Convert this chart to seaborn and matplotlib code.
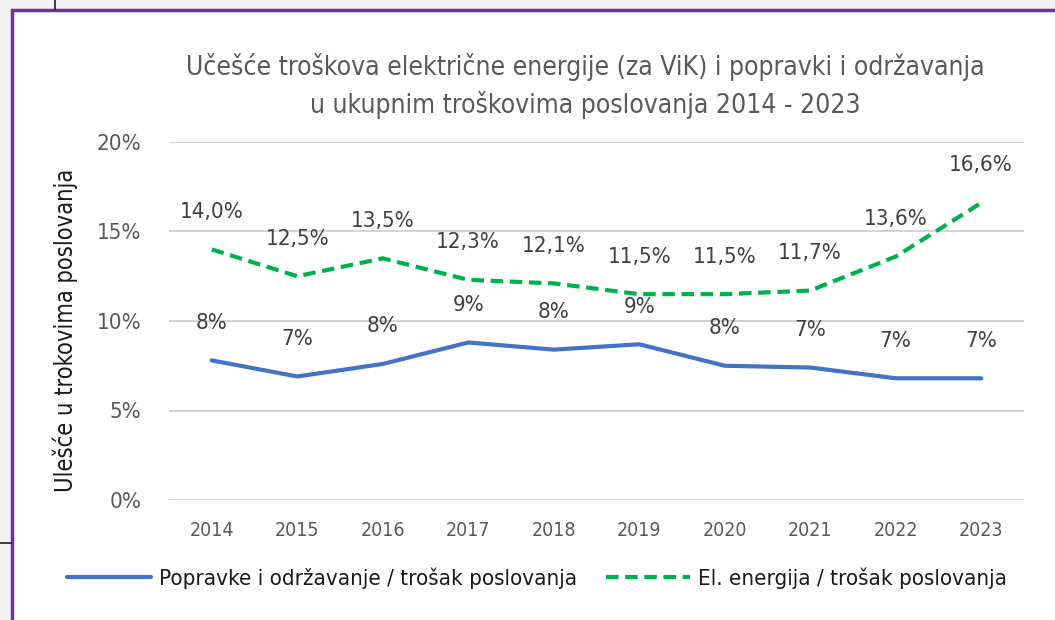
import numpy as np
import pandas as pd
import matplotlib
matplotlib.use("Agg")
import matplotlib.pyplot as plt
import matplotlib.font_manager as fm
from matplotlib.patches import Rectangle
from matplotlib.lines import Line2D
import seaborn as sns

# Data
years = [2014, 2015, 2016, 2017, 2018, 2019, 2020, 2021, 2022, 2023]
popravke = [7.8, 6.9, 7.6, 8.8, 8.4, 8.7, 7.5, 7.4, 6.8, 6.8]
popravke_labels = ["8%", "7%", "8%", "9%", "8%", "9%", "8%", "7%", "7%", "7%"]
energija = [14.0, 12.5, 13.5, 12.3, 12.1, 11.5, 11.5, 11.7, 13.6, 16.6]
energija_labels = ["14,0%", "12,5%", "13,5%", "12,3%", "12,1%",
                    "11,5%", "11,5%", "11,7%", "13,6%", "16,6%"]
y_ticks = [0, 5, 10, 15, 20]
y_tick_labels = ["0%", "5%", "10%", "15%", "20%"]

title = ("Učešće troškova električne energije (za ViK) i popravki i održavanja\n"
         "u ukupnim troškovima poslovanja 2014 - 2023")
y_title = "Ulešće u trokovima poslovanja"
name_popravke = "Popravke i održavanje / trošak poslovanja"
name_energija = "El. energija / trošak poslovanja"

# Table for seaborn
df = pd.DataFrame({"godina": years, "popravke": popravke, "energija": energija})

sns.set_style("white")
names = {f.name for f in fm.fontManager.ttflist}
if "Liberation Sans Narrow" in names:
    plt.rcParams["font.family"] = ["Liberation Sans Narrow", "DejaVu Sans"]
else:
    plt.rcParams["font.family"] = ["DejaVu Sans"]
    plt.rcParams["font.stretch"] = "condensed"

blue = "#4472C4"
green = "#00B050"
grey_txt = "#595959"
dark_txt = "#404040"

W, H = 1055, 620
fig = plt.figure(figsize=(W / 100, H / 100), dpi=100)

# Slide frame around the chart
fig.patches.append(Rectangle((0, 0), 1, 1, transform=fig.transFigure,
                             facecolor="#F2F2F2", edgecolor="none", zorder=-3))
fig.patches.append(Rectangle((12 / W, -0.05), 1.1, 1 - 10 / H + 0.05,
                             transform=fig.transFigure, facecolor="white",
                             edgecolor="#7030A0", linewidth=2.5, zorder=-2))
fig.lines.append(Line2D([55 / W, 55 / W], [1 - 10 / H, 1], transform=fig.transFigure,
                        color="#222222", lw=1.2, zorder=-1))
fig.lines.append(Line2D([0, 11 / W], [1 - 543 / H, 1 - 543 / H], transform=fig.transFigure,
                        color="#222222", lw=1.2, zorder=-1))

ax = fig.add_axes([169 / W, 1 - 500 / H, (1024 - 169) / W, (500 - 142) / H])
ax.set_facecolor("none")

sns.lineplot(data=df, x="godina", y="popravke", ax=ax, color=blue, linewidth=3,
             label=name_popravke, legend=False)
sns.lineplot(data=df, x="godina", y="energija", ax=ax, color=green, linewidth=3,
             linestyle=(0, (3, 1.6)), label=name_energija, legend=False)

for x, y, t in zip(years, popravke, popravke_labels):
    ax.annotate(t, (x, y), xytext=(0, 27), textcoords="offset points",
                ha="center", va="center", fontsize=16, color=dark_txt)
for x, y, t in zip(years, energija, energija_labels):
    ax.annotate(t, (x, y), xytext=(0, 27), textcoords="offset points",
                ha="center", va="center", fontsize=16, color=dark_txt)

ax.set_xlim(2013.5, 2023.5)
ax.set_ylim(0, 20)
ax.set_xticks(years)
ax.set_xticklabels([str(y) for y in years])
ax.set_yticks(y_ticks)
ax.set_yticklabels(y_tick_labels)
ax.tick_params(axis="x", length=0, pad=15, labelsize=14, labelcolor=grey_txt)
ax.tick_params(axis="y", length=0, pad=20, labelsize=16, labelcolor=grey_txt)
ax.grid(axis="y", color="#D4D4D4", linewidth=1.5)
ax.grid(axis="x", visible=False)
for s in ax.spines.values():
    s.set_visible(False)
ax.set_xlabel("")
ax.set_ylabel("")

fig.text(65 / W, 1 - 330 / H, y_title, rotation=90, ha="center", va="center",
         fontsize=17, color="#1a1a1a")
fig.text(585 / W, 1 - 86 / H, title, ha="center", va="center", fontsize=19,
         color=grey_txt, linespacing=1.45)

handles, labels = ax.get_legend_handles_labels()
fig.legend(handles, labels, loc="center", bbox_to_anchor=(537 / W, 1 - 578 / H),
           ncol=2, frameon=False, fontsize=16, handlelength=3.8,
           columnspacing=1.3, handletextpad=0.35, labelcolor="#1a1a1a")

fig.savefig("out.png", dpi=100)
